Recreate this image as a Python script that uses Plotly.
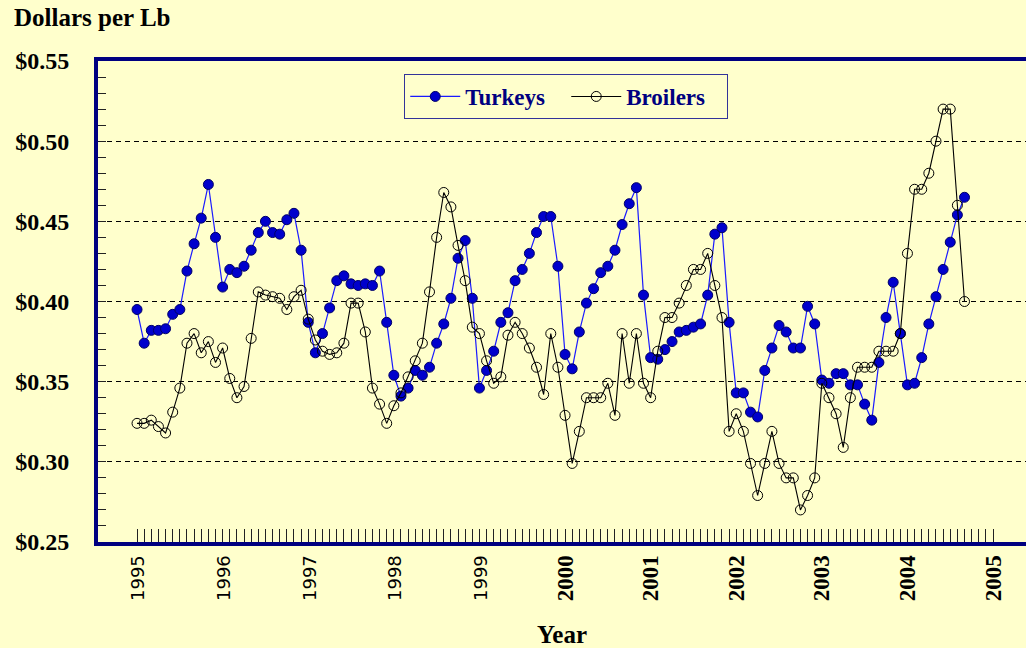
"""Monthly wholesale prices: turkeys vs broilers, 1995-2004."""

import numpy as np
import plotly.graph_objects as go

BG = "#FFFFCC"
NAVY = "#000080"
SERIF = "Liberation Serif, Times New Roman, serif"

START_YEAR = 1995
YEARS = list(range(1995, 2006))

TURKEYS = [
    0.395, 0.374, 0.382, 0.382, 0.383, 0.392, 0.395, 0.419, 0.436, 0.452, 0.473, 0.440,
    0.409, 0.420, 0.418, 0.422, 0.432, 0.443, 0.450, 0.443, 0.442, 0.451, 0.455, 0.432,
    0.387, 0.368, 0.380, 0.396, 0.413, 0.416, 0.411, 0.410, 0.411, 0.410, 0.419, 0.387,
    0.354, 0.341, 0.346, 0.357, 0.354, 0.359, 0.374, 0.386, 0.402, 0.427, 0.438, 0.402,
    0.346, 0.357, 0.369, 0.387, 0.393, 0.413, 0.420, 0.430, 0.443, 0.453, 0.453, 0.422,
    0.367, 0.358, 0.381, 0.399, 0.408, 0.418, 0.422, 0.432, 0.448, 0.461, 0.471, 0.404,
    0.365, 0.364, 0.370, 0.375, 0.381, 0.382, 0.384, 0.386, 0.404, 0.442, 0.446, 0.387,
    0.343, 0.343, 0.331, 0.328, 0.357, 0.371, 0.385, 0.381, 0.371, 0.371, 0.397, 0.386,
    0.351, 0.349, 0.355, 0.355, 0.348, 0.348, 0.336, 0.326, 0.362, 0.390, 0.412, 0.380,
    0.348, 0.349, 0.365, 0.386, 0.403, 0.420, 0.437, 0.454, 0.465,
]

BROILERS = [
    0.324, 0.324, 0.326, 0.322, 0.318, 0.331, 0.346, 0.374, 0.380, 0.368, 0.375, 0.362,
    0.371, 0.352, 0.340, 0.347, 0.377, 0.406, 0.404, 0.403, 0.402, 0.395, 0.403, 0.407,
    0.389, 0.376, 0.369, 0.367, 0.368, 0.374, 0.399, 0.399, 0.381, 0.346, 0.336, 0.324,
    0.335, 0.343, 0.353, 0.363, 0.374, 0.406, 0.440, 0.468, 0.459, 0.435, 0.413, 0.384,
    0.380, 0.363, 0.349, 0.353, 0.379, 0.387, 0.380, 0.371, 0.359, 0.342, 0.380, 0.359,
    0.329, 0.299, 0.319, 0.340, 0.340, 0.340, 0.349, 0.329, 0.380, 0.349, 0.380, 0.349,
    0.340, 0.369, 0.390, 0.390, 0.399, 0.410, 0.420, 0.420, 0.430, 0.410, 0.390, 0.319,
    0.330, 0.319, 0.299, 0.279, 0.299, 0.319, 0.299, 0.290, 0.290, 0.270, 0.279, 0.290,
    0.349, 0.340, 0.330, 0.309, 0.340, 0.359, 0.359, 0.359, 0.369, 0.369, 0.369, 0.380,
    0.430, 0.470, 0.470, 0.480, 0.500, 0.520, 0.520, 0.460, 0.400,
]

# drop the default body margin so the figure sits flush in the window
PAGE_FIX = "document.body.style.margin='0px';document.body.style.background='#FFFFCC';"


def _year_label(year: int) -> str:
    # the source chart renders the 1990s labels in a plain sans face
    if year < 2000:
        return f'<span style="font-family:DejaVu Sans;font-weight:normal;font-size:18px">{year}</span>'
    return str(year)


def build_figure() -> go.Figure:
    months = START_YEAR + np.arange(len(TURKEYS)) / 12
    tickvals = [START_YEAR + m / 12 for m in range((YEARS[-1] - START_YEAR) * 12 + 1)]
    ticktext = [_year_label(START_YEAR + m // 12) if m % 12 == 0 else "" for m in range(len(tickvals))]

    fig = go.Figure()
    fig.add_trace(go.Scatter(
        x=months, y=TURKEYS, mode="lines+markers", name="Turkeys",
        line={"color": "#1A1AFF", "width": 1.2},
        marker={"symbol": "circle", "size": 10, "color": "#0000CC", "line": {"color": "#000066", "width": 1}},
    ))
    fig.add_trace(go.Scatter(
        x=months, y=BROILERS, mode="lines+markers", name="Broilers",
        line={"color": "#000000", "width": 1.1},
        marker={"symbol": "circle-open", "size": 10, "color": "#000000", "line": {"width": 1}},
    ))

    fig.update_layout(
        width=1026, height=648,
        paper_bgcolor=BG, plot_bgcolor=BG,
        margin={"l": 98, "r": 0, "t": 61, "b": 106},
        font={"family": SERIF, "color": "#000000", "size": 22, "weight": "bold"},
        showlegend=True,
        legend={
            "orientation": "h", "x": 0.33, "y": 0.973, "xanchor": "left", "yanchor": "top",
            "bgcolor": BG, "bordercolor": "#333399", "borderwidth": 1,
            "entrywidth": 96, "itemwidth": 50,
            "font": {"family": SERIF, "size": 23, "color": NAVY, "weight": "bold"},
        },
        annotations=[
            {"text": "Dollars per Lb", "xref": "paper", "yref": "paper", "x": -0.0927, "y": 1.0894,
             "xanchor": "left", "yanchor": "middle", "showarrow": False,
             "font": {"family": SERIF, "size": 25, "weight": "bold"}},
        ],
    )
    fig.update_xaxes(
        range=[1994.544, 2005.385], tickvals=tickvals, ticktext=ticktext, tickangle=-90,
        ticks="inside", ticklen=13, tickwidth=1, tickcolor="#222222",
        showgrid=False, zeroline=False,
        showline=True, linecolor=NAVY, linewidth=4, mirror=True,
        tickfont={"family": SERIF, "size": 23, "weight": "bold"},
        title={"text": "Year", "font": {"family": SERIF, "size": 25, "weight": "bold"}, "standoff": 26},
    )
    fig.update_yaxes(
        range=[0.25, 0.55], tick0=0.25, dtick=0.05, tickprefix="$", tickformat=".2f",
        ticks="inside", ticklen=8, tickwidth=1, tickcolor="#222222",
        minor={"dtick": 0.01, "ticks": "inside", "ticklen": 8, "tickcolor": "#222222", "showgrid": False},
        showgrid=True, gridcolor="#000000", gridwidth=1.2, griddash="5px,4px",
        zeroline=False, showline=True, linecolor=NAVY, linewidth=4,
        ticklabelstandoff=20,
        tickfont={"family": SERIF, "size": 24, "weight": "bold"},
    )
    return fig


fig = build_figure()
fig.write_html("out.html", post_script=PAGE_FIX, config={"displayModeBar": False})
